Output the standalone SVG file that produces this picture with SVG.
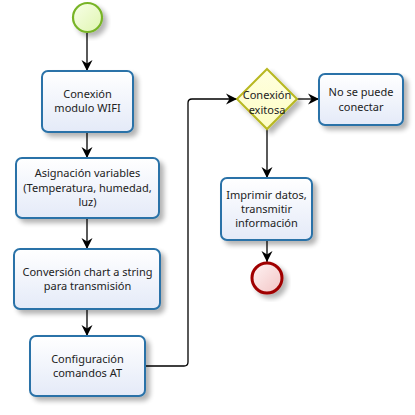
<svg xmlns="http://www.w3.org/2000/svg" width="415" height="415" viewBox="0 0 415 415">
<defs>
<linearGradient id="gBox" x1="0" y1="0" x2="0" y2="1"><stop offset="0" stop-color="#ffffff"/><stop offset="1" stop-color="#e4eaf8"/></linearGradient>
<linearGradient id="gStart" x1="0" y1="0" x2="1" y2="1"><stop offset="0" stop-color="#f8ffe8"/><stop offset="1" stop-color="#dff5b0"/></linearGradient>
<linearGradient id="gEnd" x1="0" y1="0" x2="1" y2="1"><stop offset="0" stop-color="#fff4f4"/><stop offset="1" stop-color="#f2c4c4"/></linearGradient>
<linearGradient id="gDia" x1="0" y1="0" x2="0" y2="1"><stop offset="0" stop-color="#ffffe0"/><stop offset="1" stop-color="#fdfdc4"/></linearGradient>
<filter id="sh" x="-20%" y="-20%" width="150%" height="150%"><feGaussianBlur in="SourceAlpha" stdDeviation="2.5"/><feOffset dx="4" dy="4" result="b"/><feComponentTransfer><feFuncA type="linear" slope="0.3"/></feComponentTransfer><feMerge><feMergeNode/><feMergeNode in="SourceGraphic"/></feMerge></filter>
<marker id="arr" markerUnits="userSpaceOnUse" markerWidth="12" markerHeight="12" viewBox="0 0 12 12" refX="11" refY="6" orient="auto"><path d="M0,0.5 L11,6 L0,11.5 L3.5,6 z" fill="#000"/></marker>
</defs>
<style>
.box{fill:url(#gBox);stroke:#2a72a8;stroke-width:2}
.t{font-family:"Noto Sans","DejaVu Sans",sans-serif;font-size:11px;fill:#222;text-anchor:middle}
.c{fill:none;stroke:#000;stroke-width:1.3;marker-end:url(#arr)}
</style>
<g id="connectors">
<path class="c" d="M87,33 V71"/>
<path class="c" d="M87,132 V158"/>
<path class="c" d="M87,218 V249"/>
<path class="c" d="M87,309 V336"/>
<path class="c" d="M145,366 H184 Q188,366 188,362 V103 Q188,99 192,99 H237"/>
<path class="c" d="M297,99 H319"/>
<path class="c" d="M267,129 V178"/>
<path class="c" d="M267,240 V262"/>
</g>
<g id="start"><circle cx="87.5" cy="17.5" r="14.5" fill="url(#gStart)" stroke="#78b428" stroke-width="2.2" filter="url(#sh)"/></g>
<g id="n1"><rect class="box" x="42" y="71" width="91" height="61" rx="6" filter="url(#sh)"/><text class="t" x="87.5" y="98">Conexión</text><text class="t" x="87.5" y="112">modulo WIFI</text></g>
<g id="n2"><rect class="box" x="16" y="158" width="143" height="60" rx="6" filter="url(#sh)"/><text class="t" x="87.5" y="177">Asignación variables</text><text class="t" x="87.5" y="192">(Temperatura, humedad,</text><text class="t" x="87.5" y="206">luz)</text></g>
<g id="n3"><rect class="box" x="14" y="249" width="146" height="60" rx="6" filter="url(#sh)"/><text class="t" x="87.5" y="276">Conversión chart a string</text><text class="t" x="87.5" y="290">para transmisión</text></g>
<g id="n4"><rect class="box" x="30" y="336" width="115" height="60" rx="6" filter="url(#sh)"/><text class="t" x="87.5" y="363">Configuración</text><text class="t" x="87.5" y="377">comandos AT</text></g>
<g id="gw"><path d="M267,69 L297,99 L267,129 L237,99 z" fill="url(#gDia)" stroke="#b8b820" stroke-width="2" filter="url(#sh)"/><text class="t" x="267" y="99">Conexión</text><text class="t" x="267" y="114">exitosa</text></g>
<g id="n5"><rect class="box" x="319" y="74" width="84" height="51" rx="6" filter="url(#sh)"/><text class="t" x="361" y="96">No se puede</text><text class="t" x="361" y="111">conectar</text></g>
<g id="n6"><rect class="box" x="221" y="178" width="91" height="62" rx="6" filter="url(#sh)"/><text class="t" x="266.5" y="199">Imprimir datos,</text><text class="t" x="266.5" y="213">transmitir</text><text class="t" x="266.5" y="227">información</text></g>
<g id="end"><circle cx="267" cy="278" r="15" fill="url(#gEnd)" stroke="#a00000" stroke-width="3" filter="url(#sh)"/></g>
</svg>
